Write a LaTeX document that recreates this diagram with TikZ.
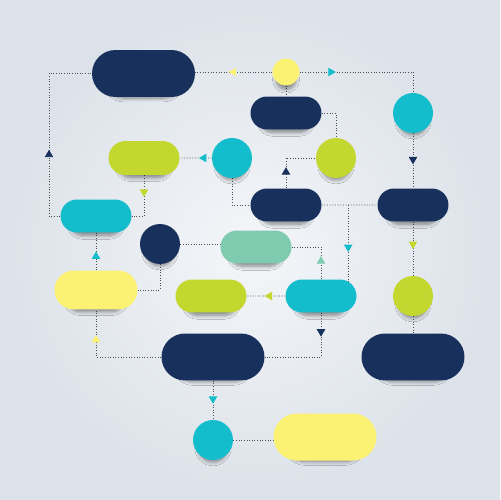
\documentclass[tikz,border=0pt]{standalone}
\usetikzlibrary{shapes.misc,arrows.meta,decorations.markings,shadows.blur,backgrounds,calc}
\definecolor{navy}{HTML}{17305C}
\definecolor{aqua}{HTML}{13BDCC}
\definecolor{lime}{HTML}{C4D72E}
\definecolor{lemon}{HTML}{FBF173}
\definecolor{mint}{HTML}{7ECBB0}
\definecolor{wire}{HTML}{4A4F57}
\definecolor{bgouter}{HTML}{DCE2E9}
\definecolor{bginner}{HTML}{F4F6F9}
\tikzset{
  soft/.style={blur shadow={shadow xshift=0pt, shadow yshift=-6pt, shadow opacity=45, shadow blur radius=3pt, shadow blur steps=8, shadow scale=0.72}},
  pill/.style={rounded rectangle, minimum width=1.42cm, minimum height=0.66cm, inner sep=0pt, fill=#1, soft},
  bigpill/.style={pill=#1, minimum width=2.06cm, minimum height=0.94cm},
  ball/.style={circle, minimum size=0.8cm, inner sep=0pt, fill=#1, soft},
  link/.style={wire, densely dotted, line width=0.5pt},
  flow/.style 2 args={link, postaction=decorate, decoration={markings, mark=at position #1 with {\arrow{Triangle[length=4.2pt,width=4.8pt,color=#2]}}}}
}
\begin{document}
\begin{tikzpicture}[x=0.02cm, y=-0.02cm]
  \useasboundingbox (0,0) rectangle (500,500);
  \node[bigpill=navy] (top) at (143.5,73.5) {};
  \node[ball=lemon, minimum size=0.54cm] (sun) at (286,72) {};
  \node[pill=navy] (n1) at (286,113) {};
  \node[ball=aqua] (c1) at (413,113) {};
  \node[ball=lime] (g1) at (336,158) {};
  \node[ball=aqua] (c2) at (232,158) {};
  \node[pill=lime, minimum height=0.68cm] (lp1) at (144,158) {};
  \node[pill=navy] (n2) at (286,205) {};
  \node[pill=navy] (n3) at (413,205) {};
  \node[pill=aqua] (cp1) at (96,216) {};
  \node[ball=navy] (nb) at (160,244) {};
  \node[pill=mint] (mp) at (256,247) {};
  \node[pill=lemon, minimum width=1.66cm, minimum height=0.78cm] (yp) at (96,290) {};
  \node[pill=lime] (lp2) at (211,296) {};
  \node[pill=aqua] (cp2) at (321,296) {};
  \node[ball=lime] (g2) at (413,296) {};
  \node[bigpill=navy] (nbig1) at (213,357) {};
  \node[bigpill=navy] (nbig2) at (413,357) {};
  \node[ball=aqua] (c3) at (213,440) {};
  \node[bigpill=lemon] (ybig) at (325,437) {};
  \coordinate (fork) at ($(n2)!.49!(n3)$);
  \begin{scope}[on background layer]
    \shade[inner color=bginner, outer color=bgouter] (0,0) rectangle (500,500);
    \draw[flow={.394}{navy}] (cp1) -- ++(-47,0) |- (top);
    \draw[flow={.337}{lemon}] (sun) -- (sun -| top);
    \draw[flow={.268}{aqua}] (sun) -| (c1);
    \draw[link] (sun) -- (n1);
    \draw[link] (n1) -| (g1);
    \draw[flow={.35}{navy}] (n2) |- (g1);
    \draw[flow={.565}{navy}] (c1) -- (n3);
    \draw[flow={.40}{aqua}] (c2) -- (lp1);
    \draw[link] (c2) |- (n2);
    \draw[link] (n2) -- (n3);
    \draw[flow={.516}{aqua}] (fork) -- (fork |- cp2);
    \draw[flow={.406}{lime}] (lp1) |- (cp1);
    \draw[flow={.5}{aqua}] (yp) -- (cp1);
    \draw[link] (nb) -- (nb -| mp);
    \draw[link] (nb) |- (yp);
    \draw[flow={.777}{lemon}] (nbig1) -| (yp);
    \draw[flow={.374}{mint}] (cp2) |- (mp);
    \draw[flow={.536}{lime}] (cp2) -- (lp2);
    \draw[flow={.237}{navy}] (cp2) |- (nbig1);
    \draw[flow={.505}{lime}] (n3) -- (g2);
    \draw[link] (g2) -- (nbig2);
    \draw[flow={.59}{aqua}] (nbig1) -- (c3);
    \draw[link] (c3) -- (c3 -| ybig);
  \end{scope}
\end{tikzpicture}
\end{document}
